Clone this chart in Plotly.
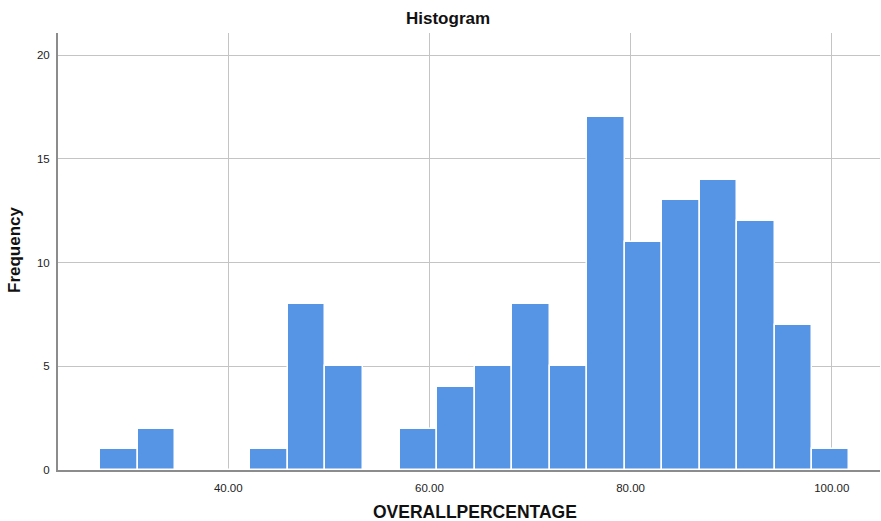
import plotly.graph_objects as go

# Data
bin_start = 27.28
bin_width = 3.724
counts = [1, 2, 0, 0, 1, 8, 5, 0, 2, 4, 5, 8, 5, 17, 11, 13, 14, 12, 7, 1]
x_tickvals = [40, 60, 80, 100]
x_ticktext = ["40.00", "60.00", "80.00", "100.00"]
y_tickvals = [0, 5, 10, 15, 20]

centers = [bin_start + (i + 0.5) * bin_width for i in range(len(counts))]

fig = go.Figure()
fig.add_trace(go.Bar(
    x=centers, y=counts, width=bin_width,
    marker=dict(color="#5694e6", line=dict(color="white", width=1.5)),
    hoverinfo="x+y",
))

fig.update_layout(
    width=881, height=521,
    margin=dict(l=58, r=1, t=33, b=51, autoexpand=False),
    paper_bgcolor="white", plot_bgcolor="white",
    font=dict(family="Liberation Sans, Arial, sans-serif", color="#222"),
    showlegend=False,
    bargap=0,
    xaxis=dict(
        range=[23.07, 104.8], tickvals=x_tickvals, ticktext=x_ticktext,
        showgrid=True, gridcolor="#c4c4c4", gridwidth=1,
        showline=True, linecolor="#8c8c8c", linewidth=2,
        ticks="", tickfont=dict(size=11.5, color="#222"), ticklabelstandoff=6,
        zeroline=False, automargin=False,
    ),
    yaxis=dict(
        range=[0, 21.06], tickvals=y_tickvals,
        showgrid=True, gridcolor="#c4c4c4", gridwidth=1,
        showline=True, linecolor="#8c8c8c", linewidth=2,
        ticks="", tickfont=dict(size=11.5, color="#222"), ticklabelstandoff=4,
        zeroline=False, automargin=False,
    ),
    annotations=[
        dict(text="<b>Histogram</b>", x=448, y=18, showarrow=False,
             font=dict(size=17, color="#111")),
        dict(text="<b>OVERALLPERCENTAGE</b>", x=475, y=512, showarrow=False,
             font=dict(size=17.5, color="#111")),
        dict(text="<b>Frequency</b>", x=15, y=250, showarrow=False, textangle=-90,
             font=dict(size=17, color="#111")),
    ],
)

# convert pixel positions of the text labels to paper coordinates
W, H = 881, 521
l, r, t, b = 58, 1, 33, 51
pw, ph = W - l - r, H - t - b
for a in fig.layout.annotations:
    a.xref = "paper"; a.yref = "paper"
    a.x = (a.x - l) / pw
    a.y = (H - b - a.y) / ph
    a.xanchor = "center"; a.yanchor = "middle"

fig.write_html("out.html", config={"displayModeBar": False},
               post_script="document.body.style.margin='0px';")
